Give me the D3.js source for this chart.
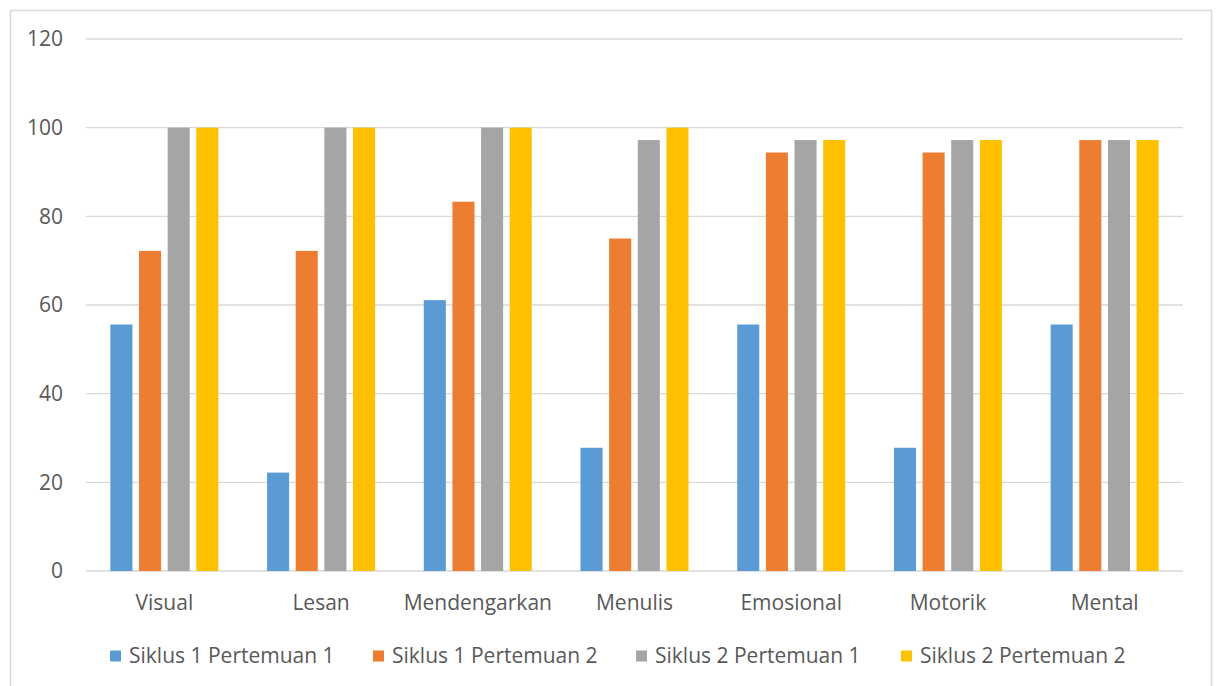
<!DOCTYPE html>
<html>
<head>
<meta charset="utf-8">
<script src="https://cdn.jsdelivr.net/npm/d3@7"></script>
<style>
  body { margin: 0; background: #fff; }
  text { font-family: "Open Sans", "Noto Sans", sans-serif; fill: #595959; }
</style>
</head>
<body>
<div id="chart"></div>
<script>
const categories = ['Visual', 'Lesan', 'Mendengarkan', 'Menulis', 'Emosional', 'Motorik', 'Mental'];
const seriesNames = ['Siklus 1 Pertemuan 1', 'Siklus 1 Pertemuan 2', 'Siklus 2 Pertemuan 1', 'Siklus 2 Pertemuan 2'];
const s1p1 = [55.6, 22.2, 61.1, 27.8, 55.6, 27.8, 55.6];
const s1p2 = [72.2, 72.2, 83.3, 75, 94.4, 94.4, 97.2];
const s2p1 = [100, 100, 100, 97.2, 97.2, 97.2, 97.2];
const s2p2 = [100, 100, 100, 100, 97.2, 97.2, 97.2];
const yTicks = [0, 20, 40, 60, 80, 100, 120];
const colors = ['#5b9bd5', '#ed7d31', '#a5a5a5', '#ffc000'];

const series = [s1p1, s1p2, s2p1, s2p2];
const width = 1219, height = 686;
const margin = { left: 86, right: 36, top: 39, bottom: 115 };

const svg = d3.select('#chart').append('svg')
        .attr('width', width)
        .attr('height', height);

// chart border
svg.append('rect')
        .attr('x', 10.5).attr('y', 10.5)
        .attr('width', 1201).attr('height', 690)
        .attr('fill', 'none')
        .attr('stroke', '#d9d9d9')
        .attr('stroke-width', 1.5);

const y = d3.scaleLinear().domain([0, 120]).range([height - margin.bottom, margin.top]);
const x0 = d3.scaleBand().domain(categories).range([margin.left, width - margin.right]).padding(0);
const inner = 108;
const x1 = d3.scaleBand().domain(d3.range(4))
        .range([(x0.bandwidth() - inner) / 2, (x0.bandwidth() + inner) / 2])
        .paddingInner(0.23);

// gridlines
svg.append('g')
        .selectAll('line')
        .data(yTicks)
        .join('line')
        .attr('x1', margin.left).attr('x2', width - margin.right)
        .attr('y1', d => y(d)).attr('y2', d => y(d))
        .attr('stroke', '#d9d9d9')
        .attr('stroke-width', 1.3);

// y labels
svg.append('g')
        .selectAll('text')
        .data(yTicks)
        .join('text')
        .attr('x', 63).attr('y', d => y(d))
        .attr('dy', '0.35em')
        .attr('text-anchor', 'end')
        .style('font-size', '21px')
        .text(d => d);

// bars
const groups = svg.append('g')
        .selectAll('g')
        .data(categories)
        .join('g')
        .attr('transform', d => `translate(${x0(d)},0)`);

groups.selectAll('rect')
        .data((d, i) => series.map((s, k) => ({ k, v: s[i] })))
        .join('rect')
        .attr('x', d => x1(d.k))
        .attr('width', x1.bandwidth())
        .attr('y', d => y(d.v))
        .attr('height', d => y(0) - y(d.v))
        .attr('fill', d => colors[d.k]);

// x labels
svg.append('g')
        .selectAll('text')
        .data(categories)
        .join('text')
        .attr('x', d => x0(d) + x0.bandwidth() / 2)
        .attr('y', 603)
        .attr('dy', '0.35em')
        .attr('text-anchor', 'middle')
        .style('font-size', '21px')
        .text(d => d);

// legend
const legend = svg.append('g').attr('transform', 'translate(110,0)');
const items = legend.selectAll('g')
        .data(seriesNames)
        .join('g');
items.append('rect')
        .attr('width', 11).attr('height', 11)
        .attr('y', -5.5)
        .attr('fill', (d, i) => colors[i]);
items.append('text')
        .attr('x', 19)
        .attr('dy', '0.35em')
        .style('font-size', '21px')
        .text(d => d);
const slots = [0, 263, 526, 791];
items.attr('transform', (d, i) => `translate(${slots[i]},656)`);
</script>
</body>
</html>
